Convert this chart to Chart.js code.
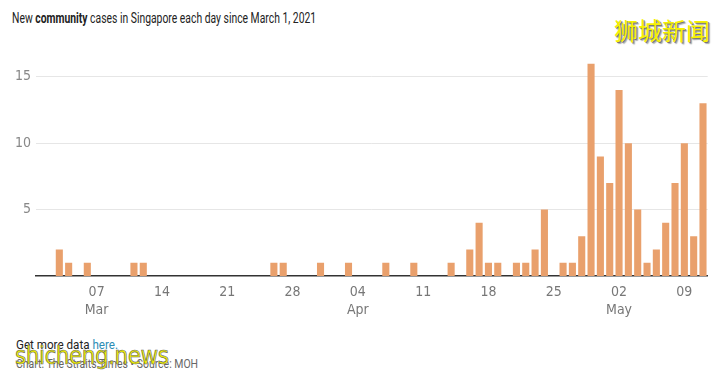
<!DOCTYPE html>
<html>
<head>
<meta charset="utf-8">
<script src="https://cdn.jsdelivr.net/npm/chart.js@4"></script>
<style>
  body { margin: 0; background: #fff; width: 726px; height: 376px; overflow: hidden; position: relative; font-family: Roboto, sans-serif; }
  .fit { position: absolute; white-space: nowrap; transform-origin: 0 0; }
  #title { left: 12px; top: 9px; font-size: 15px; color: #222; }
  #logo { position: absolute; left: 614px; top: 12px; font-family: "Noto Sans CJK SC"; font-size: 24px; color: #f6f200; text-shadow: 1px 1px 0 #777, 2px 2px 1px #aaa; }
  #box { position: absolute; left: 0; top: 50px; width: 710px; height: 270px; }
  #more { left: 16px; top: 337px; font-size: 13px; color: #222; }
  #more span { color: #2c8cb5; }
  #credit { left: 16px; top: 356px; font-size: 13px; color: #666; }
  #wm { position: absolute; left: 15px; top: 342px; font-family: "DejaVu Sans Condensed"; font-size: 24px; color: #eeee00; -webkit-text-stroke: 0.6px #666; letter-spacing: -0.5px; }
</style>
</head>
<body>
<div id="title" class="fit" data-w="304">New <b>community</b> cases in Singapore each day since March 1, 2021</div>
<div id="logo">狮城新闻</div>
<div id="box"><canvas id="barChart"></canvas></div>
<div id="more" class="fit" data-w="102">Get more data <span>here.</span></div>
<div id="credit" class="fit" data-w="182">Chart: The Straits Times • Source: MOH</div>
<div id="wm">shicheng.news</div>
<script>
// Daily dates, March 1 to May 11, 2021
const days = [
  '2021-03-01','2021-03-02','2021-03-03','2021-03-04','2021-03-05','2021-03-06','2021-03-07',
  '2021-03-08','2021-03-09','2021-03-10','2021-03-11','2021-03-12','2021-03-13','2021-03-14',
  '2021-03-15','2021-03-16','2021-03-17','2021-03-18','2021-03-19','2021-03-20','2021-03-21',
  '2021-03-22','2021-03-23','2021-03-24','2021-03-25','2021-03-26','2021-03-27','2021-03-28',
  '2021-03-29','2021-03-30','2021-03-31','2021-04-01','2021-04-02','2021-04-03','2021-04-04',
  '2021-04-05','2021-04-06','2021-04-07','2021-04-08','2021-04-09','2021-04-10','2021-04-11',
  '2021-04-12','2021-04-13','2021-04-14','2021-04-15','2021-04-16','2021-04-17','2021-04-18',
  '2021-04-19','2021-04-20','2021-04-21','2021-04-22','2021-04-23','2021-04-24','2021-04-25',
  '2021-04-26','2021-04-27','2021-04-28','2021-04-29','2021-04-30','2021-05-01','2021-05-02',
  '2021-05-03','2021-05-04','2021-05-05','2021-05-06','2021-05-07','2021-05-08','2021-05-09',
  '2021-05-10','2021-05-11'
];
// New community cases per day
const cases = [
  0,0,2,1,0,1,0,
  0,0,0,1,1,0,0,
  0,0,0,0,0,0,0,
  0,0,0,0,1,1,0,
  0,0,1,0,0,1,0,
  0,0,1,0,0,1,0,
  0,0,1,0,2,4,1,
  1,0,1,1,2,5,0,
  1,1,3,16,9,7,14,
  10,5,1,2,4,7,10,
  3,13
];
// Axis tick labels
const monthNames = { '03': 'Mar', '04': 'Apr', '05': 'May' };
const yTicks = [5, 10, 15];

// squeeze the html text lines to the narrow width of the original font
document.querySelectorAll('.fit').forEach(el => {
  const s = parseFloat(el.dataset.w) / el.scrollWidth;
  el.style.transform = 'scaleX(' + s + ')';
});

function tickLabel(i) {
  if ((i - 6) % 7 !== 0) return '';
  const parts = days[i].split('-');
  // first labelled day of each month gets the month name under it
  if (parseInt(parts[2], 10) <= 7) return [parts[2], monthNames[parts[1]]];
  return parts[2];
}

const ctx = document.getElementById('barChart').getContext('2d');
new Chart(ctx, {
  type: 'bar',
  data: {
    labels: days,
    datasets: [{
      label: 'New community cases',
      data: cases,
      backgroundColor: '#e9a06c',
      barPercentage: 0.76,
      categoryPercentage: 1.0
    }]
  },
  options: {
    responsive: true,
    maintainAspectRatio: false,
    animation: false,
    layout: { padding: { top: 12, left: 0, right: 0, bottom: 0 } },
    plugins: { legend: { display: false }, tooltip: { enabled: false } },
    scales: {
      x: {
        grid: { display: false, drawTicks: false },
        border: { display: true, color: '#333', width: 1.5 },
        afterFit: axis => { axis.height = 44; },
        ticks: {
          autoSkip: false,
          maxRotation: 0,
          padding: 7,
          color: '#777',
          font: { family: '"DejaVu Sans Condensed", sans-serif', size: 14, lineHeight: 1.3 },
          callback: (val, i) => tickLabel(i)
        }
      },
      y: {
        min: 0,
        max: 16,
        afterBuildTicks: axis => { axis.ticks = yTicks.map(v => ({ value: v })); },
        afterFit: axis => { axis.width = 36; },
        border: { display: false },
        grid: { color: '#e6e6e6', drawTicks: false },
        ticks: {
          padding: 5,
          color: '#888',
          font: { family: '"DejaVu Sans Condensed", sans-serif', size: 14 }
        }
      }
    }
  }
});
</script>
</body>
</html>
